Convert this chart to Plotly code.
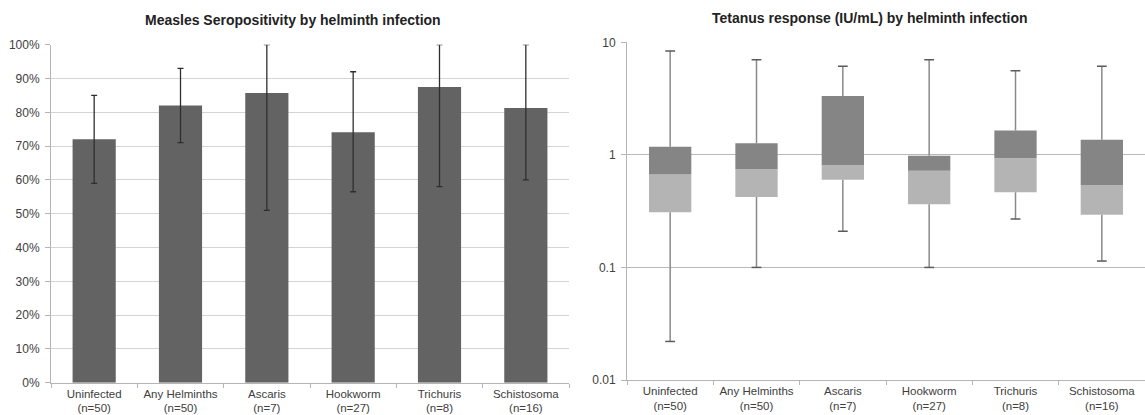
import plotly.graph_objects as go

# ---- data ----
categories = ["Uninfected", "Any Helminths", "Ascaris", "Hookworm", "Trichuris", "Schistosoma"]
n_values = [50, 50, 7, 27, 8, 16]

# Measles seropositivity (proportion) with CI
measles_pos = [0.72, 0.82, 0.857, 0.741, 0.875, 0.8125]
measles_low = [0.59, 0.71, 0.51, 0.565, 0.58, 0.60]
measles_high = [0.85, 0.93, 1.00, 0.92, 1.00, 1.00]

# Tetanus response (IU/mL) box statistics
tet_min = [0.022, 0.10, 0.21, 0.10, 0.27, 0.114]
tet_q1 = [0.309, 0.423, 0.602, 0.364, 0.466, 0.294]
tet_med = [0.67, 0.745, 0.81, 0.724, 0.933, 0.537]
tet_q3 = [1.18, 1.27, 3.33, 0.98, 1.65, 1.365]
tet_max = [8.37, 7.0, 6.12, 7.0, 5.59, 6.12]

measles_ticks = [i / 10 for i in range(11)]
tetanus_ticks = [0.01, 0.1, 1, 10]
tetanus_ticktext = ["0.01", "0.1", "1", "10"]

tick_text = [f"{c}<br>(n={n})" for c, n in zip(categories, n_values)]

FONT = "Liberation Sans, Arial, sans-serif"
TXT = "#404040"
W, H = 1145, 415

fig = go.Figure()

# Left: measles bars
fig.add_trace(go.Bar(
    x=categories, y=measles_pos, width=0.5,
    marker=dict(color="#636363", line=dict(width=0)),
    error_y=dict(type="data", symmetric=False,
                 array=[h - v for h, v in zip(measles_high, measles_pos)],
                 arrayminus=[v - l for v, l in zip(measles_pos, measles_low)],
                 color="#2e2e2e", thickness=1.3, width=3),
    xaxis="x", yaxis="y", showlegend=False, hoverinfo="skip"))

# Right: tetanus boxes as stacked floating bars
fig.add_trace(go.Bar(
    x=categories, base=tet_q1, y=[m - q for m, q in zip(tet_med, tet_q1)], width=0.49,
    marker=dict(color="#b4b4b4", line=dict(width=0)),
    xaxis="x2", yaxis="y2", showlegend=False, hoverinfo="skip"))
fig.add_trace(go.Bar(
    x=categories, base=tet_med, y=[q - m for q, m in zip(tet_q3, tet_med)], width=0.49,
    marker=dict(color="#858585", line=dict(width=0)),
    xaxis="x2", yaxis="y2", showlegend=False, hoverinfo="skip"))

# whiskers
wx, wy = [], []
for c, lo, q1, q3, hi in zip(categories, tet_min, tet_q1, tet_q3, tet_max):
    wx += [c, c, None, c, c, None]
    wy += [q3, hi, None, q1, lo, None]
fig.add_trace(go.Scatter(
    x=wx, y=wy, mode="lines", line=dict(color="#8a8a8a", width=1.5),
    xaxis="x2", yaxis="y2", showlegend=False, hoverinfo="skip"))
fig.add_trace(go.Scatter(
    x=categories + categories, y=tet_max + tet_min, mode="markers",
    marker=dict(symbol="line-ew", size=7, line=dict(color="#5a5a5a", width=1.5)),
    xaxis="x2", yaxis="y2", showlegend=False, hoverinfo="skip"))

axis_common = dict(showline=True, linecolor="#b5b5b5", linewidth=1, automargin=False)
yfont = dict(family=FONT, size=12, color=TXT)
xfont = dict(family=FONT, size=11.5, color=TXT)

fig.update_layout(
    width=W, height=H,
    margin=dict(l=0, r=0, t=0, b=0),
    paper_bgcolor="white", plot_bgcolor="white",
    barmode="overlay", bargap=0.5,
    font=dict(family=FONT, color=TXT),
    xaxis=dict(domain=[51 / W, 569 / W], anchor="y", type="category",
               tickmode="array", tickvals=categories, ticktext=tick_text, tickangle=0,
               tickfont=xfont,
               tickson="boundaries", ticks="outside", ticklen=4, tickcolor="#b5b5b5",
               showgrid=False, **axis_common),
    yaxis=dict(domain=[1 - 382.7 / H, 1 - 44.7 / H], anchor="x", range=[0, 1],
               tickvals=measles_ticks, tickformat=".0%", tickfont=yfont,
               ticks="outside", ticklen=5, tickcolor="#b5b5b5", ticklabelstandoff=3,
               showgrid=True, gridcolor="#d4d4d4", gridwidth=1, zeroline=False,
               **axis_common),
    xaxis2=dict(domain=[627 / W, 1.0], anchor="y2", type="category",
                tickmode="array", tickvals=categories, ticktext=tick_text, tickangle=0,
                tickfont=xfont,
                tickson="boundaries", ticks="outside", ticklen=4, tickcolor="#b5b5b5",
                showgrid=False, **axis_common),
    yaxis2=dict(domain=[1 - 380 / H, 1 - 42.3 / H], anchor="x2", type="log",
                range=[-2, 1], tickvals=tetanus_ticks, ticktext=tetanus_ticktext,
                tickfont=yfont,
                ticks="outside", ticklen=5, tickcolor="#b5b5b5", ticklabelstandoff=3,
                showgrid=True, gridcolor="#b8b8b8", gridwidth=1, zeroline=False,
                **axis_common),
    annotations=[
        dict(text="<b>Measles Seropositivity by helminth infection</b>",
             x=292.8 / W, y=1 - 20 / H, xref="paper", yref="paper",
             xanchor="center", yanchor="middle", showarrow=False,
             font=dict(family=FONT, size=14, color="#222222")),
        dict(text="<b>Tetanus response (IU/mL) by helminth infection</b>",
             x=869.7 / W, y=1 - 18 / H, xref="paper", yref="paper",
             xanchor="center", yanchor="middle", showarrow=False,
             font=dict(family=FONT, size=14, color="#222222")),
    ],
)

fig.write_html("out.html",
               config={"displayModeBar": False},
               post_script="document.body.style.margin='0px';document.body.style.overflow='hidden';")
